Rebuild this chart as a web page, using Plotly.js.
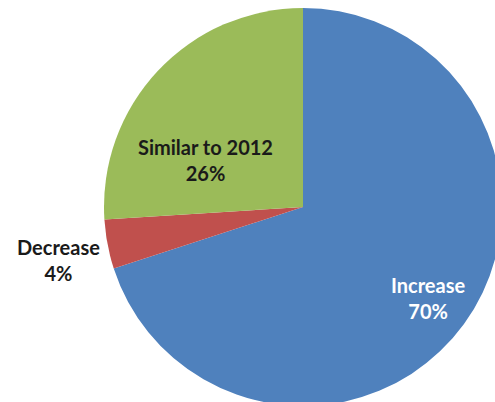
<!DOCTYPE html>
<html>
<head>
<meta charset="utf-8">
<script src="https://cdn.plot.ly/plotly-3.0.1.min.js"></script>
<style>
html,body{margin:0;padding:0;overflow:hidden;background:#fff;width:495px;height:402px;}
#chart{position:absolute;left:0;top:0;}
</style>
</head>
<body>
<div id="chart"></div>
<script>
const labels = ["Increase", "Decrease", "Similar to 2012"];
const values = [70, 4, 26];
const colors = ["#4F81BD", "#C0504D", "#9BBB59"];
const labelColors = ["#ffffff", "#1a1a1a", "#1a1a1a"];
// label anchor positions (layout only)
const labelPos = [[428, 298], [58, 260], [205, 160]];

const W = 606, H = 406, T = 8;
const total = values.reduce((a, b) => a + b, 0);

const annotations = labels.map((lab, i) => ({
  text: lab + "<br>" + Math.round(values[i] / total * 100) + "%",
  xref: "paper", yref: "paper",
  x: labelPos[i][0] / W,
  y: 1 - (labelPos[i][1] - T) / (H - T),
  xanchor: "center", yanchor: "middle",
  showarrow: false,
  align: "center",
  font: {family: "Lato, 'Open Sans', sans-serif", size: 20, weight: "bold", color: labelColors[i]}
}));

Plotly.newPlot("chart", [{
  type: "pie",
  labels: labels,
  values: values,
  sort: false,
  direction: "clockwise",
  rotation: 0,
  textinfo: "none",
  hoverinfo: "none",
  marker: {colors: colors, line: {width: 0}},
  showlegend: false,
  domain: {x: [0, 1], y: [0, 1]}
}], {
  width: W, height: H,
  margin: {l: 0, r: 0, t: T, b: 0, pad: 0},
  paper_bgcolor: "#ffffff",
  plot_bgcolor: "#ffffff",
  showlegend: false,
  annotations: annotations
}, {displayModeBar: false, staticPlot: true});
</script>
</body>
</html>
